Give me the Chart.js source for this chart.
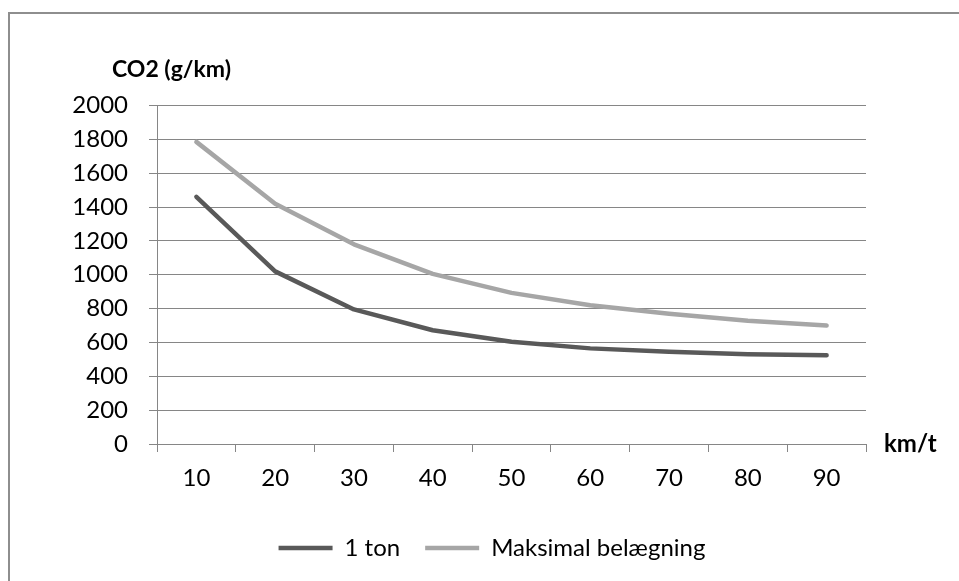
<!DOCTYPE html>
<html>
<head>
<meta charset="utf-8">
<script src="https://cdn.jsdelivr.net/npm/chart.js@4.4.1/dist/chart.umd.min.js"></script>
<style>
  html, body { margin: 0; padding: 0; background: #fff; overflow: hidden; }
  #wrap { position: relative; width: 959px; height: 620px; }
  #frame {
    position: absolute; left: 8px; top: 12px; right: -10px; bottom: -10px;
    border-left: 2px solid #8e8e8e; border-top: 2px solid #8e8e8e;
  }
  #chart { position: absolute; left: 0; top: 0; }
</style>
</head>
<body>
<div id="wrap">
  <div id="frame"></div>
  <canvas id="chart" width="959" height="620"></canvas>
</div>
<script>
/* --------- データ --------- */
// X 軸のカテゴリ（km/t）
const speedLabels = ["10", "20", "30", "40", "50", "60", "70", "80", "90"];

// 系列ごとの CO2 (g/km)
const oneTon = [1460, 1020, 795, 672, 604, 565, 545, 531, 525];
const maxLoad = [1785, 1420, 1180, 1005, 893, 820, 770, 728, 700];

// Y 軸の目盛り設定
const yMin = 0;
const yMax = 2000;
const yStep = 200;

/* --------- 見た目 --------- */
const FONT = "Lato, 'Open Sans', sans-serif";
const gridColor = "#868686";

// 軸タイトル（CO2 と km/t）をキャンバスに直接描く
const axisTitles = {
  id: "axisTitles",
  afterDraw(chart) {
    const { ctx, chartArea } = chart;
    ctx.save();
    ctx.fillStyle = "#000";
    ctx.font = "bold 23px " + FONT;
    ctx.textBaseline = "middle";
    ctx.textAlign = "left";
    ctx.fillText("CO2 (g/km)", 112, 70);
    ctx.font = "bold 24px " + FONT;
    ctx.fillText("km/t", chartArea.right + 18, chartArea.bottom);
    ctx.restore();
  },
};

function makeDataset(label, data, color) {
  return {
    label,
    data,
    borderColor: color,
    backgroundColor: color,
    borderWidth: 4.5,
    borderCapStyle: "round",
    borderJoinStyle: "round",
    pointRadius: 0,
    tension: 0,
  };
}

new Chart(document.getElementById("chart"), {
  type: "line",
  data: {
    labels: speedLabels,
    datasets: [
      makeDataset("1 ton", oneTon, "#595959"),
      makeDataset("Maksimal belægning", maxLoad, "#a6a6a6"),
    ],
  },
  options: {
    responsive: false,
    animation: false,
    layout: { padding: { left: 60, right: 35, top: 105.5, bottom: 50 } },
    plugins: {
      tooltip: { enabled: false },
      legend: {
        position: "bottom",
        labels: {
          usePointStyle: true,
          pointStyle: "line",
          pointStyleWidth: 54,
          padding: 25,
          color: "#000",
          font: { family: FONT, size: 24 },
        },
      },
    },
    scales: {
      x: {
        offset: true,
        grid: { offset: true, drawOnChartArea: false, tickLength: 8, color: gridColor },
        border: { color: gridColor, width: 1 },
        ticks: { color: "#000", padding: 12, font: { family: FONT, size: 24 } },
        afterFit: (s) => { s.height = 67; },
      },
      y: {
        min: yMin,
        max: yMax,
        grid: { tickLength: 8, color: gridColor },
        border: { color: gridColor, width: 1 },
        ticks: {
          stepSize: yStep,
          color: "#000",
          padding: 21,
          font: { family: FONT, size: 24 },
          callback: (v) => String(v), // 桁区切りなし
        },
        afterFit: (s) => { s.width = 97; },
      },
      // 右側の空き（km/t の置き場所）を確保するだけの軸
      yRight: {
        position: "right",
        display: true,
        grid: { display: false },
        border: { display: false },
        ticks: { display: false },
        afterFit: (s) => { s.width = 58; },
      },
    },
  },
  plugins: [axisTitles],
});
</script>
</body>
</html>
